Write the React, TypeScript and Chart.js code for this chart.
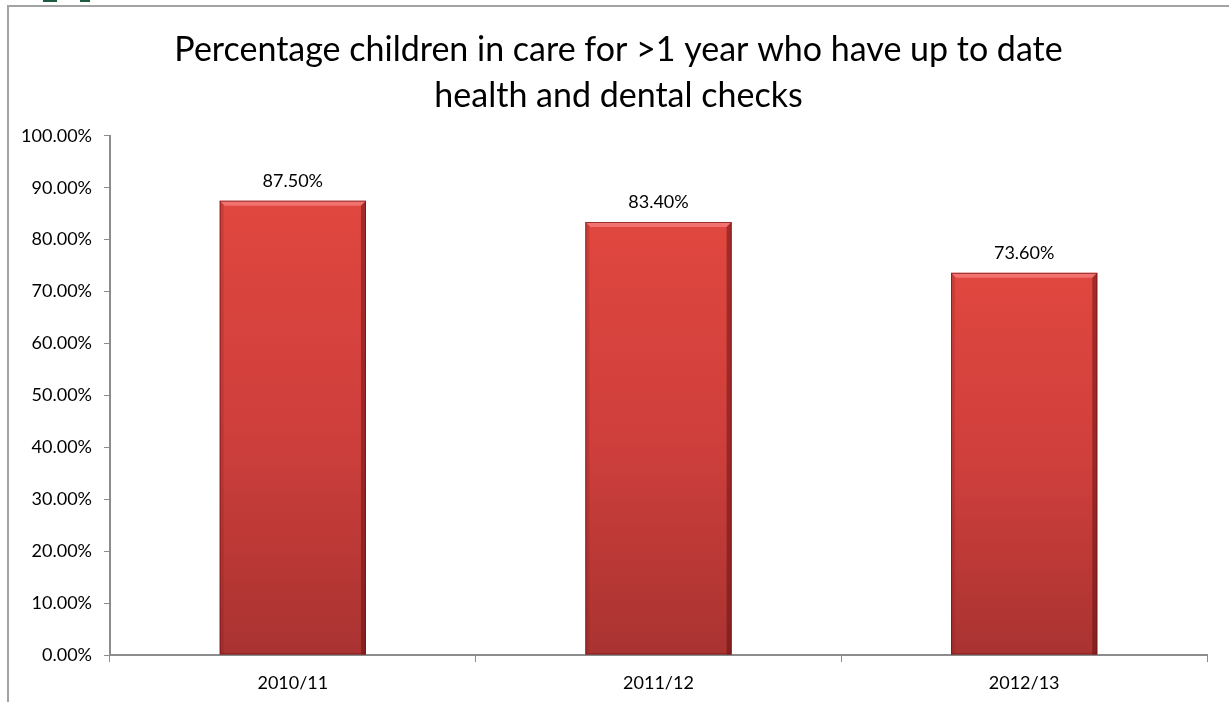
import React, { useEffect, useRef } from "react";
import { Chart, registerables } from "chart.js";

Chart.register(...registerables);

const categories = ["2010/11", "2011/12", "2012/13"];
const values = [87.5, 83.4, 73.6];
const yTicks = [0, 10, 20, 30, 40, 50, 60, 70, 80, 90, 100];
const titleLines = [
  "Percentage children in care for >1 year who have up to date",
  "health and dental checks",
];

const FONT = "Lato, 'Open Sans', sans-serif";

const barBevel = {
  id: "barBevel",
  afterDatasetsDraw(chart: any) {
    const ctx = chart.ctx;
    const meta = chart.getDatasetMeta(0);
    ctx.save();
    meta.data.forEach((bar: any) => {
      const p = bar.getProps(["x", "y", "base", "width"], true);
      const left = p.x - p.width / 2;
      const right = p.x + p.width / 2;
      const top = p.y;
      const bottom = p.base;
      ctx.fillStyle = "rgba(255,150,150,0.55)";
      ctx.beginPath();
      ctx.moveTo(left, top);
      ctx.lineTo(right, top);
      ctx.lineTo(right - 5, top + 5);
      ctx.lineTo(left + 5, top + 5);
      ctx.closePath();
      ctx.fill();
      ctx.fillStyle = "rgba(90,10,10,0.45)";
      ctx.beginPath();
      ctx.moveTo(right, top);
      ctx.lineTo(right, bottom);
      ctx.lineTo(right - 5, bottom);
      ctx.lineTo(right - 5, top + 5);
      ctx.closePath();
      ctx.fill();
      ctx.fillStyle = "rgba(120,20,20,0.18)";
      ctx.beginPath();
      ctx.moveTo(left, top);
      ctx.lineTo(left + 4, top + 4);
      ctx.lineTo(left + 4, bottom);
      ctx.lineTo(left, bottom);
      ctx.closePath();
      ctx.fill();
      ctx.strokeStyle = "rgba(110,20,20,0.7)";
      ctx.lineWidth = 1;
      ctx.strokeRect(left + 0.5, top + 0.5, p.width - 1, bottom - top - 1);
    });
    ctx.restore();
  },
};

const dataLabels = {
  id: "dataLabels",
  afterDatasetsDraw(chart: any) {
    const ctx = chart.ctx;
    const meta = chart.getDatasetMeta(0);
    ctx.save();
    ctx.font = `18px ${FONT}`;
    ctx.fillStyle = "#000";
    ctx.textAlign = "center";
    ctx.textBaseline = "middle";
    meta.data.forEach((bar: any, i: number) => {
      const p = bar.getProps(["x", "y"], true);
      ctx.fillText(values[i].toFixed(2) + "%", p.x, p.y - 20);
    });
    ctx.restore();
  },
};

export default function App() {
  const ref = useRef<HTMLCanvasElement | null>(null);

  useEffect(() => {
    const prevMargin = document.body.style.margin;
    document.body.style.margin = "0";
    document.body.style.overflow = "hidden";
    if (!ref.current) return;
    const chart = new Chart(ref.current, {
      type: "bar",
      data: {
        labels: categories,
        datasets: [
          {
            data: values,
            backgroundColor: (c: any) => {
              const ch = c.chart;
              const area = ch.chartArea;
              if (!area) return "#d04040";
              const ys = ch.scales.y;
              const v = values[c.dataIndex] ?? 0;
              const top = ys.getPixelForValue(v);
              const bottom = ys.getPixelForValue(0);
              const g = ch.ctx.createLinearGradient(0, top, 0, bottom);
              g.addColorStop(0, "#e0473f");
              g.addColorStop(0.5, "#cf3f3c");
              g.addColorStop(1, "#a93331");
              return g;
            },
            borderWidth: 0,
            categoryPercentage: 1,
            barPercentage: 0.4,
          },
        ],
      },
      options: {
        animation: false,
        responsive: false,
        maintainAspectRatio: false,
        layout: { padding: 0 },
        plugins: {
          legend: { display: false },
          tooltip: { enabled: false },
          title: {
            display: true,
            text: titleLines,
            color: "#000",
            font: { family: FONT, size: 34, weight: "normal", lineHeight: 1.35 },
            padding: { top: 21, bottom: 17 },
          },
        },
        scales: {
          x: {
            type: "category",
            offset: true,
            grid: {
              offset: true,
              drawOnChartArea: false,
              drawTicks: true,
              tickLength: 7,
              color: "#8c8c8c",
              lineWidth: 1,
            },
            border: { display: true, color: "#8c8c8c", width: 2 },
            ticks: {
              color: "#000",
              font: { family: FONT, size: 18 },
              padding: 10,
            },
            afterFit: (s: any) => {
              s.height = 47;
            },
          },
          y: {
            min: 0,
            max: 100,
            afterBuildTicks: (s: any) => {
              s.ticks = yTicks.map((v) => ({ value: v }));
            },
            grid: {
              drawOnChartArea: false,
              drawTicks: true,
              tickLength: 6,
              color: "#8c8c8c",
              lineWidth: 1,
            },
            border: { display: true, color: "#8c8c8c", width: 2 },
            ticks: {
              color: "#000",
              font: { family: FONT, size: 18 },
              padding: 12,
              callback: (v: any) => Number(v).toFixed(2) + "%",
            },
            afterFit: (s: any) => {
              s.width = 102;
            },
          },
          yRight: {
            position: "right",
            min: 0,
            max: 100,
            grid: { display: false, drawTicks: false },
            border: { display: false },
            ticks: { display: false },
            afterFit: (s: any) => {
              s.width = 22;
            },
          },
        },
      },
      plugins: [barBevel, dataLabels],
    });
    return () => {
      chart.destroy();
      document.body.style.margin = prevMargin;
    };
  }, []);

  return (
    <div
      style={{
        position: "absolute",
        left: 0,
        top: 0,
        width: 1229,
        height: 702,
        overflow: "hidden",
        background: "#fff",
      }}
    >
      <div style={{ position: "absolute", left: 43, top: 0, width: 14, height: 2, background: "#1e5a40" }} />
      <div style={{ position: "absolute", left: 80, top: 0, width: 10, height: 2, background: "#1e5a40" }} />
      <div
        style={{
          position: "absolute",
          left: 7,
          top: 5,
          width: 1300,
          height: 800,
          borderLeft: "2px solid #a3a3a3",
          borderTop: "2px solid #a3a3a3",
        }}
      />
      <canvas
        ref={ref}
        width={1221}
        height={696}
        style={{ position: "absolute", left: 8, top: 6, width: 1221, height: 696 }}
      />
    </div>
  );
}
